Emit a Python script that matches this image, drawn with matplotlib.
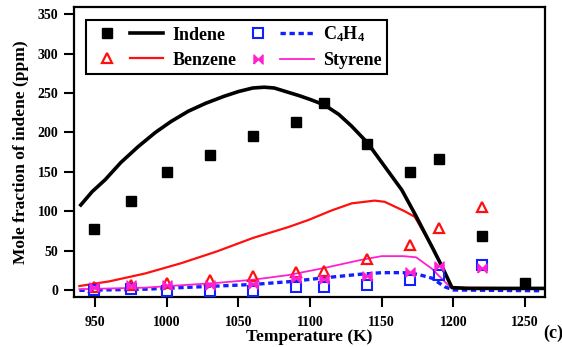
import matplotlib
matplotlib.use("Agg")

import matplotlib.pyplot as plt
from matplotlib.lines import Line2D
from matplotlib.path import Path
from matplotlib.legend_handler import HandlerTuple

# Measured mole fractions (ppm) vs. temperature (K)
temp_exp = [949, 975, 1000, 1030, 1060, 1090, 1110, 1140, 1170, 1190, 1220, 1250]
indene_exp = [78, 113, 150, 171, 196, 213, 237, 186, 150, 166, 69, 9]
benzene_exp = [4, 6, 8.5, 12.5, 18, 23, 23.5, 39, 57, 78.5, 106]
c4h4_exp = [0, 1, -1, -1.5, -1, 3.5, 4, 6, 12.5, 19, 32]
styrene_exp = [4, 6, 6, 6, 8, 15, 14, 18, 23, 30.5, 27.5]

# Model predictions
temp_ind = [940, 948, 957, 968, 980, 992, 1003, 1015, 1027, 1040, 1050, 1060, 1068,
            1075, 1083, 1092, 1100, 1110, 1120, 1129, 1140, 1152, 1164, 1173, 1185,
            1192, 1199, 1210, 1262]
indene_mod = [108, 125, 140, 162, 182, 200, 214, 227, 237, 246, 252, 256.5, 257.5,
              256.5, 252, 247, 242, 235, 223, 208, 187, 157, 127, 97, 55, 30, 3, 2, 2]

temp_benz = [939, 960, 985, 1010, 1035, 1060, 1085, 1099, 1115, 1129, 1145, 1152,
             1159, 1166, 1173, 1185, 1192, 1199, 1262]
benzene_mod = [5, 11, 21, 34, 49, 66, 80, 89, 101, 110, 113.5, 112, 106, 100, 93,
               55, 30, 3, 2]

temp_sty = [939, 985, 1010, 1035, 1060, 1085, 1110, 1135, 1150, 1165, 1174, 1185,
            1197, 1200, 1262]
styrene_mod = [1, 3, 6, 9, 13, 19, 28, 38, 43, 43, 41.5, 27, 5, 2.5, 2]

temp_c4 = [939, 985, 1035, 1060, 1085, 1110, 1135, 1150, 1165, 1175, 1185, 1194,
           1200, 1262]
c4h4_mod = [-0.5, 1, 5, 7, 10.5, 15.5, 20, 22, 22, 20, 15, 4, 0, -1]

xticks = [950, 1000, 1050, 1100, 1150, 1200, 1250]
yticks = [0, 50, 100, 150, 200, 250, 300, 350]

plt.rcParams.update({
    "font.family": ["Liberation Serif", "DejaVu Serif"],
    "font.weight": "bold",
    "axes.labelweight": "bold",
    "mathtext.fontset": "custom",
    "mathtext.rm": "Liberation Serif:bold",
    "mathtext.it": "Liberation Serif:italic:bold",
    "font.size": 10,
})

# bowtie marker used for styrene
bowtie = Path([(-1, -1), (0, 0), (1, -1), (1, 1), (0, 0), (-1, 1), (-1, -1)])

fig = plt.figure(figsize=(5.62, 3.47), dpi=100)
ax = fig.add_axes([0.131, 0.145, 0.839, 0.834])

ax.plot(temp_benz, benzene_mod, color="#ff1010", lw=1.6, zorder=2)
ax.plot(temp_c4, c4h4_mod, color="#1020ff", lw=2.4, ls=(0, (1.6, 1.1)), zorder=3)
ax.plot(temp_sty, styrene_mod, color="#ff20d0", lw=1.3, zorder=3)
ax.plot(temp_ind, indene_mod, color="black", lw=2.6, zorder=4)

ax.plot(temp_exp, indene_exp, ls="none", marker="s", ms=7.5, color="black", zorder=5)
ax.plot(temp_exp[:11], benzene_exp, ls="none", marker="^", ms=6.5, mfc="none",
        mec="#ff1010", mew=1.6, zorder=5)
ax.plot(temp_exp[:11], c4h4_exp, ls="none", marker="s", ms=6.5, mfc="none",
        mec="#1020ff", mew=1.5, zorder=5)
ax.plot(temp_exp[:11], styrene_exp, ls="none", marker=bowtie, ms=6.5,
        color="#ff20d0", zorder=5)

ax.set_xlim(935, 1264)
ax.set_ylim(-8.5, 359)
ax.set_xticks(xticks)
ax.set_yticks(yticks)
ax.tick_params(direction="out", length=7, width=1.5, labelsize=10)
ax.tick_params(axis="x", pad=7)
ax.tick_params(axis="y", pad=4)
for sp in ax.spines.values():
    sp.set_linewidth(1.6)

ax.set_xlabel("Temperature (K)", fontsize=12.5)
ax.xaxis.set_label_coords(0.5, -0.112)
ax.set_ylabel("Mole fraction of indene (ppm)", fontsize=12.5, labelpad=6)

# legend: marker and model line side by side
def pair(marker_kw, line_kw):
    m = Line2D([], [], ls="none", **marker_kw)
    l = Line2D([], [], **line_kw)
    return (m, l)

h_ind = pair(dict(marker="s", ms=7.5, color="black"), dict(color="black", lw=2.6))
h_benz = pair(dict(marker="^", ms=6.5, mfc="none", mec="#ff1010", mew=1.6),
              dict(color="#ff1010", lw=1.6))
h_c4 = pair(dict(marker="s", ms=6.5, mfc="none", mec="#1020ff", mew=1.5),
            dict(color="#1020ff", lw=2.4, ls=(0, (1.6, 1.1))))
h_sty = pair(dict(marker=bowtie, ms=6.5, color="#ff20d0"),
             dict(color="#ff20d0", lw=1.3))

leg = ax.legend([h_ind, h_benz, h_c4, h_sty],
                ["Indene", "Benzene", r"C$_4$H$_4$", "Styrene"],
                handler_map={tuple: HandlerTuple(ndivide=None, pad=0.33)},
                ncol=2, loc="upper left", bbox_to_anchor=(0.0265, 0.956),
                borderaxespad=0, handlelength=4.0, handletextpad=0.55,
                columnspacing=0.25, labelspacing=0.45, borderpad=0.25,
                fancybox=False, edgecolor="black", framealpha=1, fontsize=13)
leg.get_frame().set_linewidth(1.5)

fig.text(0.966, 0.04, "(c)", fontsize=13, fontweight="bold", ha="left", va="center")

fig.savefig("out.png", dpi=100)
